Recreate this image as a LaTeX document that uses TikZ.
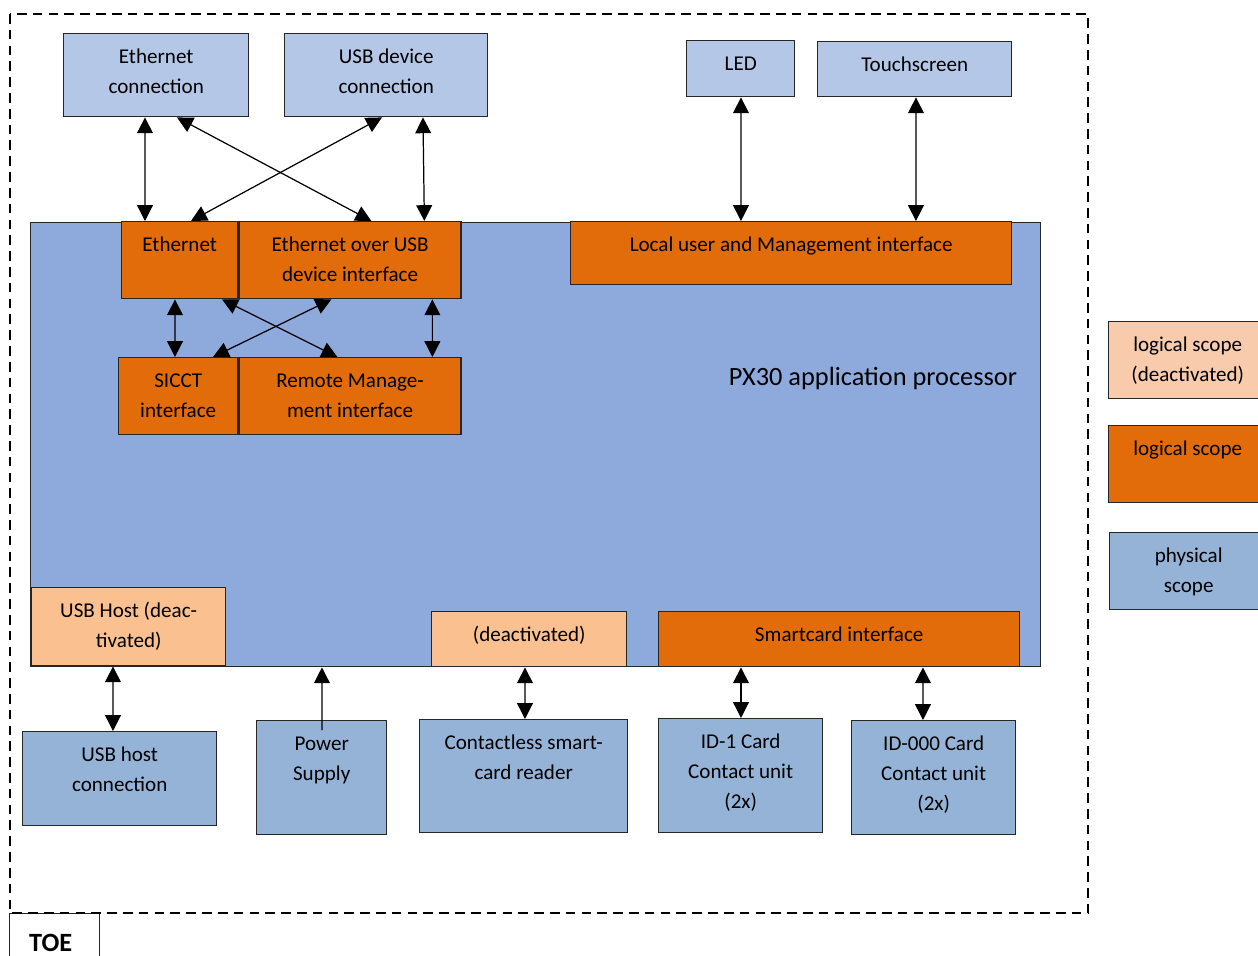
\documentclass[tikz,border=0pt]{standalone}
\usepackage{fontspec}
\setmainfont{Carlito}
\usetikzlibrary{arrows.meta,positioning}
\definecolor{physlight}{HTML}{B4C7E7}
\definecolor{physblue}{HTML}{95B3D7}
\definecolor{procblue}{HTML}{8EA9DB}
\definecolor{logic}{HTML}{E36C0A}
\definecolor{logicoff}{HTML}{FAC090}
\definecolor{legendoff}{HTML}{F8CBAD}

\begin{document}
\begin{tikzpicture}[x=0.02cm, y=-0.02cm, >={Triangle[length=9pt,width=9pt]}]
	\tikzstyle{box}
	  =[draw=black!85, line width=0.8pt, anchor=north west, inner sep=0pt,
	  align=flush center, text height=0.6cm, font=\fontsize{12}{17}\selectfont]
	\tikzset{wh/.style 2 args={text width=#1*0.02cm, text depth=(#2-30)*0.02cm}}
	\tikzstyle{physup}=[box, fill=physlight]
	\tikzstyle{phys}=[box, fill=physblue]
	\tikzstyle{logi}=[box, fill=logic]
	\tikzstyle{logioff}=[box, fill=logicoff]
	\tikzstyle{link}=[<->, line width=0.7pt]

	\useasboundingbox (0,0) rectangle (1258,956);

	% TOE frame
	\node[box, fill=white, wh={90}{60}, text height=0.76cm,
	  font=\bfseries\fontsize{15}{18}\selectfont] (toe)
	  at (9,913) {\hspace*{-0.16cm}TOE};
	\draw[line width=1.1pt, dash pattern=on 5.5pt off 3.5pt]
	  (10,14) rectangle (1088,913);

	% processor
	\node[box, fill=procblue, wh={1010}{444}] (proc)
	  at (30,222) {};
	\node[font=\fontsize{15}{18}\selectfont] (pxlabel)
	  at (873,378) {PX30 application processor};

	% physical, top
	\node[physup, wh={185}{83}] (ethcon)
	  at (63,33) {Ethernet\\connection};
	\node[physup, wh={203}{83}] (usbcon)
	  at (284,33) {USB device\\connection};
	\node[physup, wh={108}{56}] (led)
	  at (686,40) {LED};
	\node[physup, wh={194}{55}] (touch)
	  at (817,41) {Touchscreen};

	% logical
	\node[logi, wh={116}{77}] (eth)
	  at (121,221) {Ethernet};
	\node[logi, wh={222}{77}] (ethusb)
	  at (eth.north east) {Ethernet over USB\\device interface};
	\node[logi, wh={441}{63}] (local)
	  at (570,221) {Local user and Management interface};
	\node[logi, wh={119}{77}] (sicct)
	  at (118,357) {SICCT\\interface};
	\node[logi, wh={222}{77}] (remote)
	  at (sicct.north east) {Remote Manage-\\ment interface};
	\node[logi, wh={361}{55}] (smart)
	  at (658,611) {Smartcard interface};
	\node[logioff, wh={194}{78}] (usbhost)
	  at (31,587) {USB Host (deac-\\tivated)};
	\node[logioff, wh={195}{55}] (deact)
	  at (431,611) {(deactivated)};

	% physical, bottom
	\node[phys, wh={194}{94}] (usbhostcon)
	  at (22,731) {USB host\\connection};
	\node[phys, wh={130}{114}] (pwr)
	  at (256,720) {Power\\Supply};
	\node[phys, wh={208}{113}] (ctless)
	  at (419,719) {Contactless smart-\\card reader};
	\node[phys, wh={164}{114}] (id1)
	  at (658,718) {ID-1 Card\\Contact unit\\(2x)};
	\node[phys, wh={164}{114}] (id000)
	  at (851,720) {ID-000 Card\\Contact unit\\(2x)};

	% legend
	\node[box, fill=legendoff, wh={158}{77}] (legoff)
	  at (1108,321) {logical scope\\(deactivated)};
	\node[logi, wh={158}{77}] (leglogi)
	  at (1108,425) {logical scope};
	\node[phys, wh={158}{77}] (legphys)
	  at (1109,532) {physical\\scope};

	% connections
	\draw[link] ([xshift=1.64cm]ethcon.south west) -- ([xshift=0.48cm]eth.north west);
	\draw[link] ([xshift=2.28cm]ethcon.south west) -- ([xshift=2.66cm]ethusb.north west);
	\draw[link] ([xshift=1.96cm]usbcon.south west) -- ([xshift=1.4cm]eth.north west);
	\draw[link] ([xshift=2.78cm]usbcon.south west) -- ([xshift=3.72cm]ethusb.north west);
	\draw[link] ([xshift=1.1cm]led.south west) -- ([xshift=3.42cm]local.north west);
	\draw[link] ([xshift=1.98cm]touch.south west) -- ([xshift=6.92cm]local.north west);
	\draw[link] ([xshift=1.08cm]eth.south west) -- ([xshift=1.14cm]sicct.north west);
	\draw[link] ([xshift=2.02cm]eth.south west) -- ([xshift=1.98cm]remote.north west);
	\draw[link] ([xshift=1.86cm]ethusb.south west) -- ([xshift=1.9cm]sicct.north west);
	\draw[link] ([xshift=3.88cm]ethusb.south west) -- ([xshift=3.88cm]remote.north west);
	\draw[link] ([xshift=1.64cm]usbhost.south west) -- ([xshift=1.82cm]usbhostcon.north west);
	\draw[->, line width=0.7pt] ([xshift=1.32cm,yshift=-0.2cm]pwr.north west) -- ([xshift=5.84cm]proc.south west);
	\draw[link] ([xshift=1.88cm]deact.south west) -- ([xshift=2.12cm]ctless.north west);
	\draw[link] ([xshift=1.66cm]smart.south west) -- ([xshift=1.66cm]id1.north west);
	\draw[link] ([xshift=5.3cm]smart.south west) -- ([xshift=1.44cm]id000.north west);
\end{tikzpicture}
\end{document}
